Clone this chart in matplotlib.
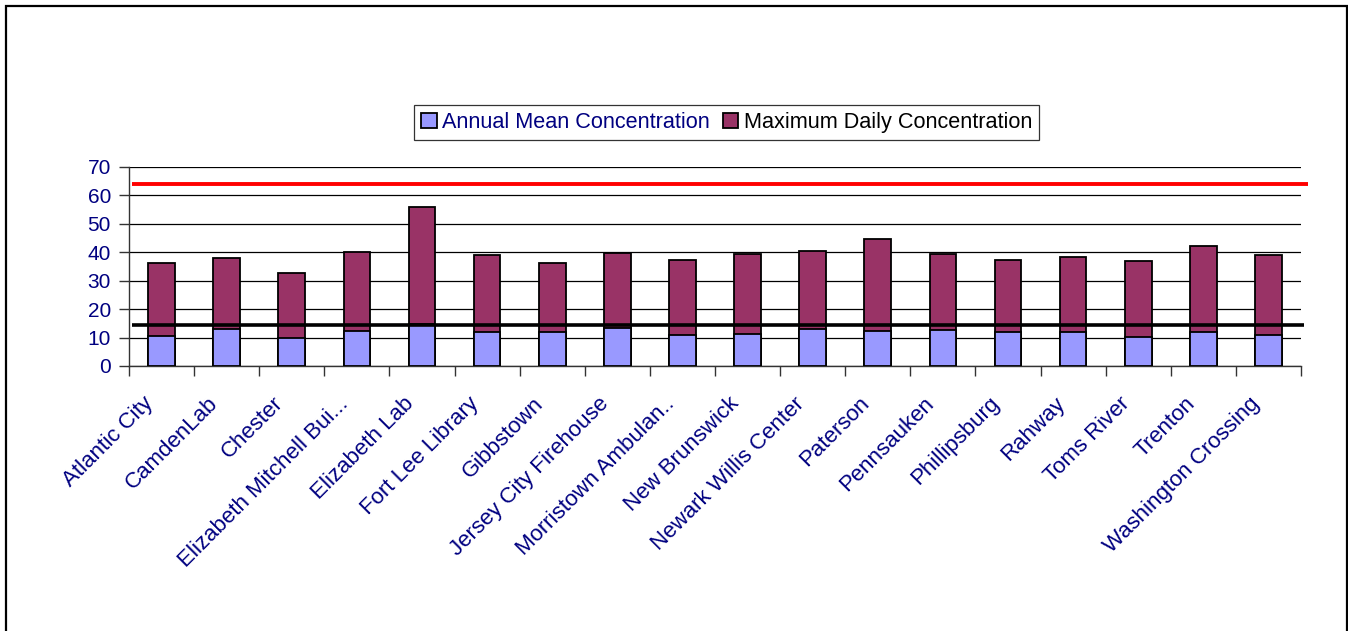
import numpy as np
import matplotlib
matplotlib.use("Agg")
import matplotlib.pyplot as plt
from matplotlib.patches import Rectangle, Patch
from matplotlib.transforms import ScaledTranslation

plt.rcParams['font.family'] = ['Liberation Sans', 'DejaVu Sans']

# PM2.5 monitoring sites
sites = ["Atlantic City", "CamdenLab", "Chester", "Elizabeth Mitchell Bui...",
         "Elizabeth Lab", "Fort Lee Library", "Gibbstown", "Jersey City Firehouse",
         "Morristown Ambulan..", "New Brunswick", "Newark Willis Center", "Paterson",
         "Pennsauken", "Phillipsburg", "Rahway", "Toms River", "Trenton",
         "Washington Crossing"]
annual_mean = [10.6, 13.0, 10.0, 12.3, 14.8, 12.0, 12.1, 13.2, 10.8, 11.3,
               13.0, 12.3, 12.8, 11.8, 12.1, 10.2, 12.1, 10.8]
max_daily = [36.1, 38.0, 32.6, 40.0, 56.1, 39.2, 36.4, 39.9, 37.2, 39.3,
             40.6, 44.8, 39.4, 37.2, 38.2, 37.0, 42.3, 38.9]
daily_standard = 64.0
annual_standard = 14.3

NAVY = '#000080'
MEAN_COLOR = '#9999FF'
MAX_COLOR = '#993366'

fig = plt.figure(figsize=(13.48, 6.31), dpi=100)
ax = fig.add_axes([129 / 1348, 1 - 366 / 631, 1172 / 1348, 199 / 631])

x = np.arange(len(sites))
ax.bar(x, max_daily, width=0.41, color=MAX_COLOR, edgecolor='black',
       linewidth=1.3, zorder=2)
ax.bar(x, annual_mean, width=0.41, color=MEAN_COLOR, edgecolor='black',
       linewidth=1.3, zorder=3)

# standard lines run a bit past the plot area
ax.plot([-0.46, 17.61], [daily_standard] * 2, color='#FF0000', lw=2.8,
        solid_capstyle='butt', clip_on=False, zorder=4)
ax.plot([-0.46, 17.55], [annual_standard] * 2, color='black', lw=2.6,
        solid_capstyle='butt', clip_on=False, zorder=4)

ax.set_xlim(-0.5, len(sites) - 0.5)
ax.set_ylim(0, 70)
ax.set_yticks(range(0, 71, 10))
ax.yaxis.grid(True, color='black', lw=0.9, zorder=0)
ax.set_axisbelow(True)
for s in ['top', 'right']:
    ax.spines[s].set_visible(False)
for s in ['left', 'bottom']:
    ax.spines[s].set_color('#333333')
    ax.spines[s].set_linewidth(1.0)

ax.set_xticks(x)
ax.set_xticklabels(sites, rotation=45, ha='right', va='top',
                   rotation_mode='anchor')
ax.set_xticks(np.arange(-0.5, len(sites)), minor=True)
ax.tick_params(axis='x', which='major', length=0, pad=8, labelsize=16,
               labelcolor=NAVY)
ax.tick_params(axis='x', which='minor', length=7, width=1.0, color='#333333')
ax.tick_params(axis='y', length=7, width=1.0, color='#333333', pad=6,
               labelsize=15, labelcolor=NAVY)

# nudge the slanted names down and to the left
shift = ScaledTranslation(-0.19, -0.16, fig.dpi_scale_trans)
for lab in ax.get_xticklabels():
    lab.set_transform(lab.get_transform() + shift)

handles = [Patch(facecolor=MEAN_COLOR, edgecolor='black', lw=1.3),
           Patch(facecolor=MAX_COLOR, edgecolor='black', lw=1.3)]
leg = fig.legend(handles, ["Annual Mean Concentration",
                           "Maximum Daily Concentration"],
                 loc='center', bbox_to_anchor=(726.5 / 1348, 1 - 122.5 / 631),
                 ncol=2, fontsize=15.6, frameon=True, fancybox=False,
                 handlelength=0.72, handleheight=0.72, handletextpad=0.25,
                 columnspacing=0.6, borderpad=0.32, borderaxespad=0)
leg.get_frame().set_edgecolor('black')
leg.get_frame().set_linewidth(0.9)
leg.get_texts()[0].set_color(NAVY)
leg.get_texts()[1].set_color('black')

# chart border, open at the bottom edge
fig.add_artist(Rectangle((5.5 / 1348, -0.05), (1346.5 - 5.5) / 1348,
                         1.05 - 6.5 / 631, transform=fig.transFigure,
                         fill=False, edgecolor='black', lw=1.6))

fig.savefig("out.png", dpi=100)
